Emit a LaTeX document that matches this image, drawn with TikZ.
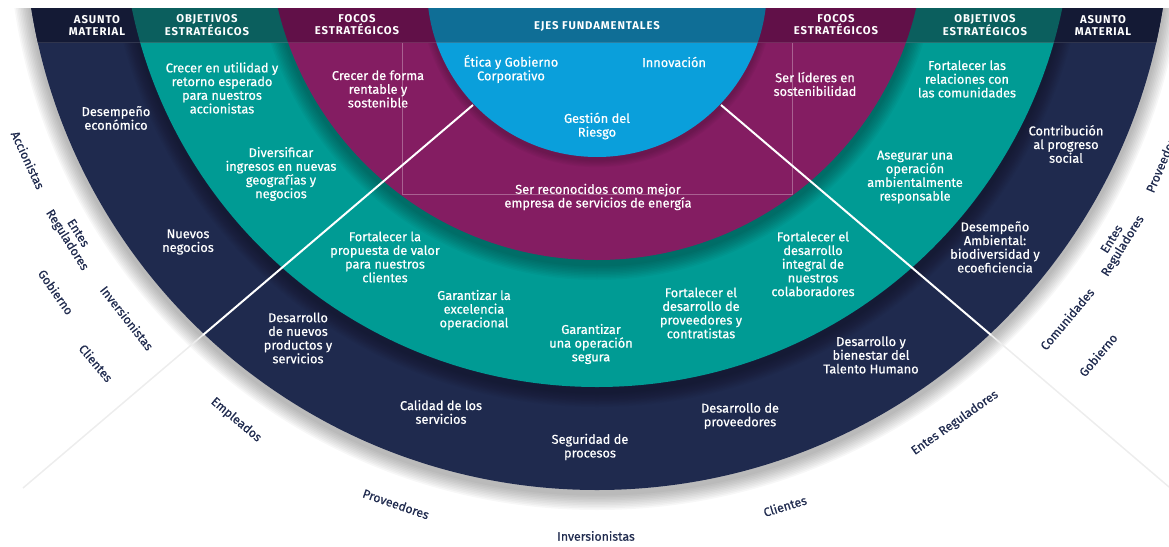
\documentclass[tikz,border=0pt]{standalone}
\usepackage{fontspec}
\setmainfont{Fira Sans}
\newfontfamily\medio{Fira Sans}[FakeBold=0.5]
\usetikzlibrary{positioning}

\definecolor{navy}{HTML}{1F2A4E}
\definecolor{navyhd}{HTML}{141A35}
\definecolor{verde}{HTML}{009B94}
\definecolor{verdehd}{HTML}{0B5F5E}
\definecolor{vino}{HTML}{841D62}
\definecolor{vinohd}{HTML}{611048}
\definecolor{azul}{HTML}{0A9FDB}
\definecolor{azulhd}{HTML}{0F6E96}

\begin{document}
\begin{tikzpicture}[x=1pt,y=-1pt,
    txt/.style={align=center,text=white,inner sep=0pt,font=\medio\fontsize{12.8}{13.7}\selectfont},
    hd/.style={align=center,text=white,inner sep=0pt,font=\fontsize{11.3}{12}\selectfont\bfseries\addfontfeatures{LetterSpace=8}},
    grupo/.style={align=center,text=navy,inner sep=0pt,font=\medio\fontsize{12.3}{12.8}\selectfont},
    sombra/.style={black,opacity=.032},
    eje/.style={white,line width=2pt},
    ejefuera/.style={black!7,line width=1.5pt}]
  \useasboundingbox (0,0) rectangle (1169,546);

  \coordinate (c1) at (597,-83);
  \coordinate (c2) at (597,-88);
  \coordinate (c3) at (597,-68);
  \coordinate (c4) at (597,-13);

  % anillos
  \begin{scope}
    \clip (0,8) rectangle (1169,546);
    \foreach \k in {1,...,10}
      \fill[sombra] ([yshift=-4pt]c1) circle[radius=573pt+\k*1.6pt];
    \fill[navy] (c1) circle[radius=573pt];
    \foreach \k in {1,...,10}
      \fill[sombra] ([yshift=-5pt]c2) circle[radius=475pt+\k*1.5pt];
    \fill[verde] (c2) circle[radius=475pt];
    \foreach \k in {1,...,10}
      \fill[sombra] ([yshift=-5pt]c3) circle[radius=328pt+\k*1.5pt];
    \fill[vino] (c3) circle[radius=328pt];
    \begin{scope}
      \clip (c3) circle[radius=328pt];
      \draw[white,opacity=.3,line width=.8pt] (402,42) rectangle (792,194);
    \end{scope}
    \foreach \k in {1,...,6}
      \fill[sombra] ([yshift=-3pt]c4) circle[radius=170pt+\k*1.2pt];
    \fill[azul] (c4) circle[radius=170pt];
  \end{scope}

  % cabecera
  \begin{scope}
    \clip (0,8) rectangle (1169,42);
    \fill[navyhd] (c1) circle[radius=573pt];
    \fill[verdehd] (c2) circle[radius=475pt];
    \fill[vinohd] (c3) circle[radius=328pt];
    \fill[azulhd] (c4) circle[radius=170pt];
  \end{scope}
  \begin{scope}
    \clip (c1) circle[radius=573pt];
    \draw[white,opacity=.12,line width=.8pt] (0,42) -- (1169,42);
  \end{scope}

  \coordinate (l1) at (473,105);
  \coordinate (l2) at (203,335);
  \coordinate (l3) at (23,488);
  \coordinate (r1) at (721,105);
  \coordinate (r2) at (991,335);
  \coordinate (r3) at (1169,487);
  \draw[ejefuera] (l2) -- (l3);
  \draw[ejefuera] (r2) -- (r3);
  \draw[eje] (l1) -- (l2);
  \draw[eje] (r1) -- (r2);

  \node[hd] (h1) at (97,25) {ASUNTO\\MATERIAL};
  \node[hd] (h2) at (207,25) {OBJETIVOS\\ESTRATÉGICOS};
  \node[hd] (h3) at (357,25) {FOCOS\\ESTRATÉGICOS};
  \node[hd] (h4) at (597,26) {EJES FUNDAMENTALES};
  \node[hd] (h5) at (836,25) {FOCOS\\ESTRATÉGICOS};
  \node[hd] (h6) at (985,25) {OBJETIVOS\\ESTRATÉGICOS};
  \node[hd] (h7) at (1103,25) {ASUNTO\\MATERIAL};

  \node[txt] (e1) at (511,69) {Ética y Gobierno\\Corporativo};
  \node[txt] (e2) at (674,62) {Innovación};
  \node[txt] (e3) at (597,126) {Gestión del\\Riesgo};

  \node[txt] (f1) at (378,89) {Crecer de forma\\rentable y\\sostenible};
  \node[txt] (f2) at (815,84) {Ser líderes en\\sostenibilidad};
  \node[txt] (f3) at (598,197) {Ser reconocidos como mejor\\empresa de servicios de energía};

  \node[txt] (o1) at (222,88) {Crecer en utilidad y\\retorno esperado\\para nuestros\\accionistas};
  \node[txt] (o2) at (281,174) {Diversificar\\ingresos en nuevas\\geografías y\\negocios};
  \node[txt] (o3) at (385,257) {Fortalecer la\\propuesta de valor\\para nuestros\\clientes};
  \node[txt] (o4) at (474,310) {Garantizar la\\excelencia\\operacional};
  \node[txt] (o5) at (591,344) {Garantizar\\una operación\\segura};
  \node[txt] (o6) at (701,313) {Fortalecer el\\desarrollo de\\proveedores y\\contratistas};
  \node[txt] (o7) at (813,264) {Fortalecer el\\desarrollo\\integral de\\nuestros\\colaboradores};
  \node[txt] (o8) at (915,177) {Asegurar una\\operación\\ambientalmente\\responsable};
  \node[txt] (o9) at (967,79) {Fortalecer las\\relaciones con\\las comunidades};

  \node[txt] (a1) at (116,118) {Desempeño\\económico};
  \node[txt] (a2) at (188,242) {Nuevos\\negocios};
  \node[txt] (a3) at (298,338) {Desarrollo\\de nuevos\\productos y\\servicios};
  \node[txt] (a4) at (441,412) {Calidad de los\\servicios};
  \node[txt] (a5) at (590,447) {Seguridad de\\procesos};
  \node[txt] (a6) at (740,416) {Desarrollo de\\proveedores};
  \node[txt] (a7) at (871,355) {Desarrollo y\\bienestar del\\Talento Humano};
  \node[txt] (a8) at (995,247) {Desempeño\\Ambiental:\\biodiversidad y\\ecoeficiencia};
  \node[txt] (a9) at (1066,144) {Contribución\\al progreso\\social};

  % grupos de interes
  \node[grupo,rotate=-65] (g1) at (28,160) {Accionistas};
  \node[grupo,rotate=-58] (g2) at (72,237) {Entes\\Reguladores};
  \node[grupo,rotate=-55] (g3) at (56,292) {Gobierno};
  \node[grupo,rotate=-52] (g4) at (127,318) {Inversionistas};
  \node[grupo,rotate=-50] (g5) at (96,363) {Clientes};
  \node[grupo,rotate=-40] (g6) at (236,420) {Empleados};
  \node[grupo,rotate=-19] (g7) at (396,504) {Proveedores};
  \node[grupo] (g8) at (596,536) {Inversionistas};
  \node[grupo,rotate=17] (g9) at (785,506) {Clientes};
  \node[grupo,rotate=35] (g10) at (955,423) {Entes Reguladores};
  \node[grupo,rotate=50] (g11) at (1067,319) {Comunidades};
  \node[grupo,rotate=50] (g12) at (1098,355) {Gobierno};
  \node[grupo,rotate=58] (g13) at (1118,243) {Entes\\Reguladores};
  \node[grupo,rotate=67] (g14) at (1163,160) {Proveedores};
\end{tikzpicture}
\end{document}
